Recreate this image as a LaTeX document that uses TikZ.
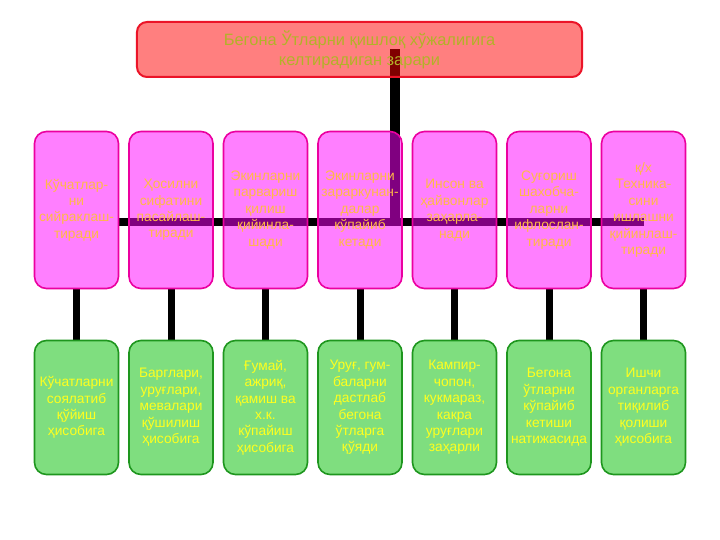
\documentclass[tikz,border=0pt]{standalone}
\usepackage{fontspec}
\setmainfont{Liberation Sans}
\usetikzlibrary{positioning}
\usetikzlibrary{backgrounds}
\usepackage{xcolor}
\definecolor{topfill}{RGB}{255,0,0}
\definecolor{topline}{RGB}{235,20,40}
\definecolor{toptext}{RGB}{178,178,40}
\definecolor{pinkfill}{RGB}{255,0,255}
\definecolor{pinkline}{RGB}{235,0,160}
\definecolor{pinktext}{RGB}{255,185,70}
\definecolor{greenfill}{RGB}{0,190,0}
\definecolor{greenline}{RGB}{30,150,30}
\definecolor{greentext}{RGB}{255,255,30}

\begin{document}
\begin{tikzpicture}[x=1bp, y=1bp, every node/.style={inner sep=0,outer sep=0, align=center}, node distance=10.5bp,
		headbox/.style={draw=topline, line width=2bp, fill=topfill, fill opacity=.5, text opacity=1, rounded corners=10bp, minimum width=445bp, minimum height=55bp, text=toptext, font=\fontsize{16.5}{20}\selectfont},
		causebox/.style={draw=pinkline, line width=1.6bp, fill=pinkfill, fill opacity=.5, text opacity=1, rounded corners=12bp, minimum width=84bp, minimum height=157bp, text=pinktext, font=\fontsize{13.8}{16.5}\selectfont},
		reasonbox/.style={draw=greenline, line width=1.6bp, fill=greenfill, fill opacity=.5, text opacity=1, rounded corners=12bp, minimum width=84bp, minimum height=134bp, text=greentext, font=\fontsize{13.8}{16.5}\selectfont},
		link/.style={line width=8bp, draw=black}]
		
		\useasboundingbox (0,0) rectangle (720,-540);
		
		%Nodes
		\node[headbox] (0) at (359.5,-49.5) {Бегона Ўтларни қишлоқ хўжалигига\\келтирадиган зарари};
		\node[causebox] (1) at (76.5,-210) {Кўчатлар-\\ни\\сийраклаш-\\тиради};
		\node[causebox] (2) [right=of 1] {Ҳосилни\\сифатини\\пасайлаш-\\тиради};
		\node[causebox] (3) [right=of 2] {Экинларни\\парвариш\\қилиш\\қийинла-\\шади};
		\node[causebox] (4) [right=of 3] {Экинларни\\зараркунан-\\далар\\кўпайиб\\кетади};
		\node[causebox] (5) [right=of 4] {Инсон ва\\ҳайвонлар\\заҳарла-\\нади};
		\node[causebox] (6) [right=of 5] {Суғориш\\шахобча-\\ларни\\ифлослан-\\тиради};
		\node[causebox] (7) [right=of 6] {қ/х\\Техника-\\сини\\ишлашни\\қийинлаш-\\тиради};
		\node[reasonbox] (11) [below=52bp of 1] {Кўчатларни\\соялатиб\\қўйиш\\ҳисобига};
		\node[reasonbox] (12) [below=52bp of 2] {Барглари,\\уруғлари,\\мевалари\\қўшилиш\\ҳисобига};
		\node[reasonbox] (13) [below=52bp of 3] {Ғумай,\\ажриқ,\\қамиш ва\\х.к.\\кўпайиш\\ҳисобига};
		\node[reasonbox] (14) [below=52bp of 4] {Уруғ, гум-\\баларни\\дастлаб\\бегона\\ўтларга\\қўяди};
		\node[reasonbox] (15) [below=52bp of 5] {Кампир-\\чопон,\\кукмараз,\\какра\\уруғлари\\заҳарли};
		\node[reasonbox] (16) [below=52bp of 6] {Бегона\\ўтларни\\кўпайиб\\кетиши\\натижасида};
		\node[reasonbox] (17) [below=52bp of 7] {Ишчи\\органларга\\тиқилиб\\қолиши\\ҳисобига};
		
		%Lines
		\begin{pgfonlayer}{background}
		\coordinate (hub) at (395,-222);
		\draw[link, line width=10bp] (0.center -| hub) -- (hub);
		\draw[link] (1.east |- hub) -- (7.center |- hub);
		\foreach \i in {1,...,7} \draw[link, line width=7bp] (\i.south) -- (1\i.north);
		\end{pgfonlayer}
	\end{tikzpicture}
\end{document}
